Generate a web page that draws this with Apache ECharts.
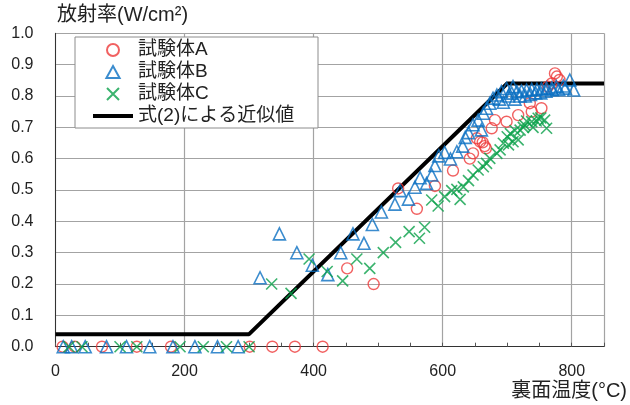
<!DOCTYPE html>
<html lang="ja">
<head>
    <meta charset="utf-8">
    <title>放射率</title>
    <script src="https://cdn.jsdelivr.net/npm/echarts@6/dist/echarts.min.js"></script>
    <style type="text/css">
        html, body {
            margin: 0;
            padding: 0;
            background: #ffffff;
        }

        #main {
            width: 630px;
            height: 405px;
        }
    </style>
</head>
<body>
<div id="main"></div>
<script type="text/javascript">
    // 試験体A (○)
    const specA = [
        [11, 0], [30, 0], [72, 0], [126, 0], [179, 0], [301, 0], [336, 0], [371, 0], [414, 0],
        [452, 0.25], [493, 0.20], [531, 0.505], [560, 0.44], [588, 0.513], [616, 0.562],
        [642, 0.60], [647, 0.617], [653, 0.665], [658, 0.654], [662, 0.652], [665, 0.64], [667, 0.633],
        [676, 0.697], [681, 0.723], [699, 0.718], [717, 0.739], [735, 0.777], [738, 0.75],
        [753, 0.761], [763, 0.83], [769, 0.84], [774, 0.872], [777, 0.862], [781, 0.851]
    ];
    // 試験体B (△)
    const specB = [
        [12, 0], [25, 0], [46, 0], [79, 0], [110, 0], [146, 0], [182, 0], [216, 0], [251, 0], [283, 0],
        [317, 0.22], [347, 0.36], [374, 0.30], [398, 0.26], [422, 0.23], [442, 0.30], [461, 0.36],
        [478, 0.33], [491, 0.39], [505, 0.43], [526, 0.455], [534, 0.498], [547, 0.471], [557, 0.509],
        [565, 0.539], [575, 0.521], [583, 0.548], [588, 0.578], [594, 0.609], [603, 0.62], [612, 0.599],
        [622, 0.622], [631, 0.64], [635, 0.668], [640, 0.683], [647, 0.708], [655, 0.723], [660, 0.692],
        [663, 0.745], [668, 0.761], [673, 0.777], [678, 0.793], [684, 0.803], [688, 0.79], [691, 0.814],
        [694, 0.78], [699, 0.824], [702, 0.80], [707, 0.809], [709, 0.83], [712, 0.79], [715, 0.814],
        [720, 0.80], [722, 0.816], [728, 0.80], [730, 0.819], [736, 0.805], [738, 0.821], [744, 0.81],
        [746, 0.821], [752, 0.81], [753, 0.823], [760, 0.815], [761, 0.825], [769, 0.825], [770, 0.82],
        [776, 0.83], [780, 0.82], [787, 0.832], [790, 0.825], [797, 0.851], [803, 0.819]
    ];
    // 試験体C (×)
    const specC = [
        [21, 0], [41, 0], [100, 0], [126, 0], [193, 0], [229, 0], [265, 0], [300, 0],
        [335, 0.20], [365, 0.17], [393, 0.28], [421, 0.24], [445, 0.21], [467, 0.28], [487, 0.25],
        [508, 0.30], [527, 0.333], [548, 0.367], [564, 0.346], [572, 0.381], [583, 0.468], [593, 0.449],
        [603, 0.479], [614, 0.498], [622, 0.502], [627, 0.47], [632, 0.51], [640, 0.53], [647, 0.548],
        [655, 0.564], [663, 0.574], [668, 0.585], [673, 0.601], [684, 0.617], [689, 0.628], [694, 0.649],
        [700, 0.67], [702, 0.644], [705, 0.68], [709, 0.654], [712, 0.69], [717, 0.66], [720, 0.691],
        [725, 0.70], [727, 0.707], [730, 0.72], [738, 0.718], [740, 0.70], [745, 0.72], [748, 0.729],
        [752, 0.73], [758, 0.723], [761, 0.697]
    ];
    // 式(2)による近似値
    const fitLine = [[0, 0.04], [300, 0.04], [700, 0.84], [850, 0.84]];

    const legendNames = ['試験体A', '試験体B', '試験体C', '式(2)による近似値'];
    const yTicks = [0, 0.1, 0.2, 0.3, 0.4, 0.5, 0.6, 0.7, 0.8, 0.9, 1.0];
    const xLabels = [0, 200, 400, 600, 800];

    const FONT = '"Liberation Sans", "Noto Sans CJK JP", sans-serif';
    const RED = '#ee3a3a', BLUE = '#0a6fc2', GREEN = '#0aa04a';
    const CROSS = 'path://M0,0L10,10M10,0L0,10';
    const TRI = 'path://M5.5,0L11,10L0,10Z';

    let chart = echarts.init(document.getElementById('main'), null, {renderer: 'canvas'});

    // 凡例のアイコン（線は太い横棒だけにする）
    let legendData = [
        {name: legendNames[0], icon: 'circle'},
        {name: legendNames[1], icon: TRI},
        {name: legendNames[2], icon: CROSS},
        {name: legendNames[3], icon: 'path://M0,0L40,0L40,4L0,4Z', itemStyle: {color: '#000', borderWidth: 0}}
    ];

    let option = {
        animation: false,
        backgroundColor: '#ffffff',
        grid: {left: 55.5, right: 26, top: 33.3, bottom: 58.3},
        legend: {
            data: legendData,
            orient: 'vertical',
            left: 75,
            top: 37,
            backgroundColor: '#ffffff',
            borderColor: '#8c8c8c',
            borderWidth: 1,
            padding: [3, 17, 2, 18],
            itemWidth: 40,
            itemHeight: 12,
            itemGap: 2,
            textStyle: {fontFamily: FONT, fontSize: 19, color: '#222', width: 163, lineHeight: 20}
        },
        xAxis: [{
            type: 'value',
            min: 0,
            max: 850,
            interval: 50,
            axisLine: {lineStyle: {color: '#333', width: 1}},
            axisTick: {inside: true, length: 4, lineStyle: {color: '#555'}},
            splitLine: {show: false},
            axisLabel: {
                fontFamily: FONT, fontSize: 16, color: '#222', margin: 17,
                formatter: function (v) {
                    return xLabels.indexOf(v) >= 0 ? String(v) : '';
                }
            }
        }, {
            type: 'value',
            min: 0,
            max: 850,
            interval: 200,
            position: 'bottom',
            axisLine: {show: false},
            axisTick: {show: false},
            axisLabel: {show: false},
            splitLine: {show: true, lineStyle: {color: '#a3a3a3', width: 1.2}}
        }],
        yAxis: {
            type: 'value',
            min: 0,
            max: 1,
            interval: 0.1,
            axisLine: {show: true, lineStyle: {color: '#333', width: 1}},
            axisTick: {show: false},
            splitLine: {lineStyle: {color: '#a3a3a3', width: 1.2}},
            axisLabel: {
                fontFamily: FONT, fontSize: 16, color: '#222', margin: 22,
                formatter: function (v) {
                    let t = yTicks.find(function (k) { return Math.abs(k - v) < 1e-6; });
                    return t === undefined ? '' : t.toFixed(1);
                }
            }
        },
        graphic: [
            {
                type: 'text', left: 57, top: 5,
                style: {text: '放射率(W/cm²)', font: '20px ' + FONT, fill: '#222'}
            },
            {
                type: 'text', right: 3, top: 381,
                style: {text: '裏面温度(°C)', font: '20px ' + FONT, fill: '#222'}
            }
        ],
        series: [
            {
                name: legendNames[3],
                type: 'line',
                data: fitLine,
                showSymbol: false,
                symbol: 'none',
                lineStyle: {color: '#000', width: 4},
                itemStyle: {color: '#000'},
                z: 2
            },
            {
                name: legendNames[0],
                type: 'scatter',
                data: specA,
                symbol: 'circle',
                symbolSize: 11,
                itemStyle: {color: 'transparent', borderColor: RED, borderWidth: 1.4},
                z: 3
            },
            {
                name: legendNames[1],
                type: 'scatter',
                data: specB,
                symbol: TRI,
                symbolSize: 12,
                itemStyle: {color: 'transparent', borderColor: BLUE, borderWidth: 1.6},
                z: 3
            },
            {
                name: legendNames[2],
                type: 'scatter',
                data: specC,
                symbol: CROSS,
                symbolSize: 11,
                itemStyle: {color: 'transparent', borderColor: GREEN, borderWidth: 1.6},
                z: 3
            }
        ]
    };

    chart.setOption(option);
</script>
</body>
</html>
